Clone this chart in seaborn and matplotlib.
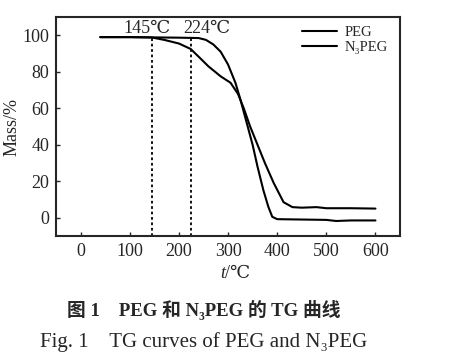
import matplotlib
matplotlib.use('Agg')
import matplotlib.pyplot as plt
import seaborn as sns
import pandas as pd

# TG 데이터
peg_t = [40, 100, 200, 240, 255, 270, 285, 300, 315, 325, 332, 340, 350, 360,
         372, 382, 390, 400, 450, 500, 520, 550, 600]
peg_mass = [99, 99, 98.7, 98.5, 97.5, 95, 91, 84, 74, 65, 58, 50, 40, 28,
            15, 6, 0.5, -0.8, -1, -1.2, -1.8, -1.5, -1.5]

n3peg_t = [40, 100, 145, 170, 200, 224, 245, 260, 285, 305, 320, 332, 345, 360,
           375, 393, 413, 431, 450, 480, 500, 550, 600]
n3peg_mass = [99, 99, 98.8, 97.5, 95.5, 92.5, 87, 83, 77.5, 74, 68, 60, 50, 40,
              30, 19, 8.5, 5.8, 5.5, 5.8, 5.2, 5.2, 5]

marks = [145, 224]
mark_labels = ['145℃', '224℃']

df = pd.concat([
    pd.DataFrame({'t': peg_t, 'mass': peg_mass, 'sample': 'PEG'}),
    pd.DataFrame({'t': n3peg_t, 'mass': n3peg_mass, 'sample': 'N₃PEG'}),
])

sns.set_style('ticks')
plt.rcParams['font.family'] = ['Liberation Serif', 'DejaVu Serif', 'Noto Sans CJK SC']

fig = plt.figure(figsize=(4.52, 3.63), dpi=100)
ax = fig.add_axes([0.124, 0.350, 0.761, 0.603])

sns.lineplot(data=df, x='t', y='mass', hue='sample', palette=['black', 'black'],
             linewidth=1.5, ax=ax)

for m in marks:
    ax.plot([m, m], [-10, 99.5], ls=(0, (1.5, 1.5)), color='black', lw=1.3)
ax.text(136, 103.5, mark_labels[0], ha='center', va='center', fontsize=13)
ax.text(256, 103.5, mark_labels[1], ha='center', va='center', fontsize=13)

ax.set_xlim(-50, 650)
ax.set_ylim(-10, 110)
ax.set_xticks([0, 100, 200, 300, 400, 500, 600])
ax.set_yticks([0, 20, 40, 60, 80, 100])
ax.tick_params(direction='in', length=3, labelsize=13, width=1, pad=5)
for s in ax.spines.values():
    s.set_linewidth(1.5)

# x축 제목: t 만 기울임
ax.set_xlabel('')
ax.text(0.492, -0.17, 't', transform=ax.transAxes, ha='right', va='center',
        fontsize=13, style='italic')
ax.text(0.492, -0.17, '/℃', transform=ax.transAxes, ha='left', va='center',
        fontsize=13)
ax.set_ylabel('Mass/%', fontsize=13, labelpad=1)

leg = ax.legend(loc='upper left', bbox_to_anchor=(0.69, 1.0), frameon=False,
                fontsize=10.5, handlelength=2.4, handletextpad=0.5,
                borderaxespad=0.2, labelspacing=0.15)

fig.text(0.45, 0.146, '图 1    PEG 和 N₃PEG 的 TG 曲线', ha='center', va='center',
         fontsize=13.5, fontweight='bold')
fig.text(0.45, 0.058, 'Fig. 1    TG curves of PEG and N₃PEG', ha='center', va='center',
         fontsize=15)

fig.savefig('out.png', dpi=100)
